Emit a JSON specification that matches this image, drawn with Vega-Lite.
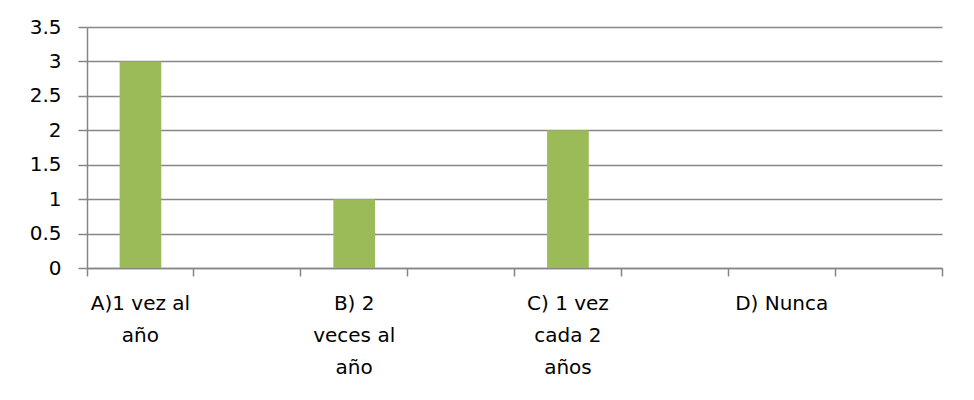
{
  "$schema": "https://vega.github.io/schema/vega-lite/v6.json",
  "width": 855,
  "height": 241,
  "autosize": {"type": "none"},
  "padding": {"left": 87, "top": 27, "right": 32, "bottom": 132},
  "background": "white",
  "config": {
    "view": {"stroke": null},
    "font": "DejaVu Sans",
    "axis": {
      "labelFont": "DejaVu Sans",
      "labelFontSize": 20,
      "labelColor": "#000000",
      "domainColor": "#868686",
      "tickColor": "#868686",
      "gridColor": "#868686",
      "domainWidth": 1.5,
      "tickWidth": 1.5,
      "gridWidth": 1.5
    }
  },
  "data": {
    "values": [
      {"categoria": "A)1 vez al año", "valor": 3},
      {"categoria": "B) 2 veces al año", "valor": 1},
      {"categoria": "C) 1 vez cada 2 años", "valor": 2},
      {"categoria": "D) Nunca", "valor": 0}
    ]
  },
  "mark": {"type": "bar", "color": "#9BBB59", "width": {"band": 0.39}},
  "encoding": {
    "x": {
      "field": "categoria",
      "type": "nominal",
      "sort": null,
      "scale": {
        "domain": ["A)1 vez al año", "_1", "B) 2 veces al año", "_2", "C) 1 vez cada 2 años", "_3", "D) Nunca", "_4"],
        "paddingInner": 0,
        "paddingOuter": 0
      },
      "axis": {
        "title": null,
        "labelAngle": 0,
        "bandPosition": 1,
        "tickExtra": true,
        "tickSize": 8,
        "grid": false,
        "labelPadding": 17,
        "labelLineHeight": 32,
        "labelBaseline": "top",
        "labelAlign": "center",
        "labelDx": -53.5,
        "labelOverlap": false,
        "labelLimit": 0,
        "labelExpr": "datum.value == 'A)1 vez al año' ? ['A)1 vez al', 'año'] : datum.value == 'B) 2 veces al año' ? ['B) 2', 'veces al', 'año'] : datum.value == 'C) 1 vez cada 2 años' ? ['C) 1 vez', 'cada 2', 'años'] : datum.value == 'D) Nunca' ? 'D) Nunca' : ''"
      }
    },
    "y": {
      "field": "valor",
      "type": "quantitative",
      "scale": {"domain": [0, 3.5], "nice": false},
      "axis": {
        "title": null,
        "values": [0, 0.5, 1, 1.5, 2, 2.5, 3, 3.5],
        "tickSize": 9,
        "labelPadding": 17,
        "grid": true,
        "format": ".1~f"
      }
    }
  }
}
